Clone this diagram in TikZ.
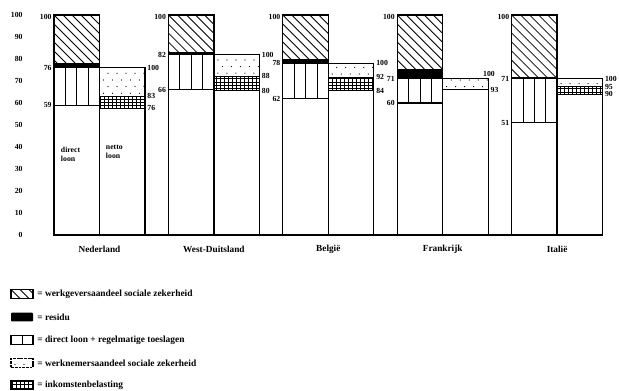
\documentclass[tikz,border=0pt]{standalone}
\usepackage{fontspec}
\setmainfont{Liberation Serif}
\usetikzlibrary{calc}

\tikzset{
  bar/.style={draw,line width=0.9pt},
  fine/.style={line width=0.6pt},
  num/.style={font=\fontsize{5.5}{6.4}\selectfont\bfseries,inner sep=0.5pt},
  land/.style={font=\fontsize{6.6}{7}\selectfont\bfseries,inner sep=0pt},
  legtext/.style={font=\fontsize{6.7}{7}\selectfont\bfseries,anchor=west,inner sep=0pt}
}

% diagonal lines (werkgeversaandeel)
\newcommand{\hatchbox}[4]{%
  \begin{scope}
    \clip (#1,#2) rectangle (#3,#4);
    \foreach \k in {-9,...,6}
      \draw[fine] ([xshift=\k*0.225cm]#1,#4) -- ++(3cm,-3cm);
  \end{scope}}
% vertical stripes (direct loon)
\newcommand{\stripebox}[5]{%
  \foreach \j in {1,...,#5}
    \draw[fine] ({#1+\j*(#3-#1)/(#5+1)},#2) -- ({#1+\j*(#3-#1)/(#5+1)},#4);}
% small squares (inkomstenbelasting)
\newcommand{\gridbox}[4]{%
  \draw[fine,xstep=1mm,ystep=0.85mm] (#1,#2) grid (#3,#4);}
% dots (werknemersaandeel)
\newcommand{\dotbox}[4]{%
  \begin{scope}
    \clip (#1,#2) rectangle (#3,#4);
    \foreach \r in {0,...,12}
      \foreach \c in {0,...,5}
        \fill ({#1+4+\c*9+mod(\r,2)*4.5},{#2+1.4+\r*3}) circle (0.45pt);
  \end{scope}}

\begin{document}
\begin{tikzpicture}[x=0.025cm,y=0.055cm]
  \useasboundingbox (0,-70.45) rectangle (619,106.82);
  % axis
  \foreach \v in {0,10,...,100}
    \node[num,anchor=east] (ax\v) at (23.5,\v) {\v};
  % bars: bruto left, netto right
  \foreach \land/\xa/\dl/\tl/\rs/\bl/\bh [count=\i] in {
      Nederland/54/59/76/78/76/83,
      West-Duitsland/168.4/66/82/83/80/88,
      België/282.8/62/78/80/84/92,
      Frankrijk/397.2/60/71/75.5/93/93,
      Italië/511.6/51/71/72/90/95}{
    \pgfmathsetmacro{\xb}{\xa+45.5}
    \pgfmathsetmacro{\xc}{\xa+91}
    \pgfmathsetmacro{\ylo}{\bl*\tl/100}
    \pgfmathsetmacro{\yhi}{\bh*\tl/100}
    \hatchbox{\xa}{\rs}{\xb}{100}
    \fill (\xa,\tl) rectangle (\xb,\rs);
    \stripebox{\xa}{\dl}{\xb}{\tl}{3}
    \draw[bar] (\xa,0) rectangle (\xb,100);
    \draw[bar] (\xa,\dl) -- (\xb,\dl) (\xa,\tl) -- (\xb,\tl);
    \ifdim\bl pt=\bh pt\else\gridbox{\xb}{\ylo}{\xc}{\yhi}\fi
    \dotbox{\xb}{\yhi}{\xc}{\tl}
    \draw[bar] (\xb,0) rectangle (\xc,\tl);
    \draw[fine] (\xb,\ylo) -- (\xc,\ylo) (\xb,\yhi) -- (\xc,\yhi);
    \node[num,anchor=east] (top\i) at (\xa-1.5,99) {100};
    \node[num,anchor=east] (tl\i) at (\xa-1.5,\tl) {\tl};
    \node[num,anchor=east] (dl\i) at (\xa-1.5,\dl) {\dl};
    \ifdim\bl pt=\bh pt
      \node[num,anchor=south west] (nt\i) at (\xc-6,\tl+0.6) {100};
    \else
      \node[num,anchor=west] (nt\i) at (\xc+1.5,\tl) {100};
      \node[num,anchor=west] (bl\i) at (\xc+1.5,\ylo) {\bl};
    \fi
    \node[num,anchor=west] (bh\i) at (\xc+1.5,\yhi) {\bh};
    \node[land] (land\i) at (\xb,-6.4) {\land};
  }
  \draw[bar] (53,0) -- (603,0);
  \node[num,align=left,anchor=north west] (direct) at (60,40.5) {direct\\loon};
  \node[num,align=left,anchor=north west] (netto) at (105,41.3) {netto\\loon};
  % legend
  \hatchbox{11}{-28.8}{33}{-24.8}
  \draw[bar] (11,-28.8) rectangle (33,-24.8);
  \node[legtext] (leg1) at (37,-26.8) {= werkgeversaandeel sociale zekerheid};
  \fill[rounded corners=0.6pt] (11,-39.3) rectangle (33,-35.3);
  \node[legtext] (leg2) at (37,-37.3) {= residu};
  \stripebox{11}{-49.7}{33}{-45.7}{1}
  \draw[bar] (11,-49.7) rectangle (33,-45.7);
  \node[legtext] (leg3) at (37,-47.7) {= direct loon + regelmatige toeslagen};
  \dotbox{11}{-60.2}{33}{-56.2}
  \draw[bar,dash pattern=on 2pt off 0.6pt] (11,-60.2) rectangle (33,-56.2);
  \node[legtext] (leg4) at (37,-58.2) {= werknemersaandeel sociale zekerheid};
  \gridbox{11}{-70.2}{33}{-66.2}
  \draw[bar] (11,-70.2) rectangle (33,-66.2);
  \node[legtext] (leg5) at (37,-68.2) {= inkomstenbelasting};
\end{tikzpicture}
\end{document}
